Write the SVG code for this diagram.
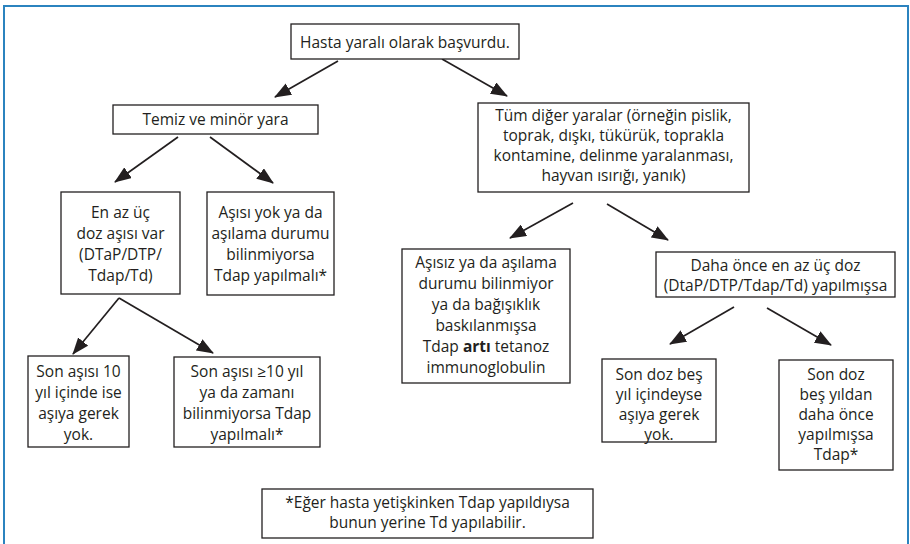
<svg xmlns="http://www.w3.org/2000/svg" width="910" height="544" viewBox="0 0 910 544">
<defs>
<marker id="ah" markerUnits="userSpaceOnUse" markerWidth="17" markerHeight="13" refX="16" refY="6.5" orient="auto">
<path d="M0,0 L17,6.5 L0,13 z" fill="#231f20"/>
</marker>
<style>
.box{fill:#fff;stroke:#231f20;stroke-width:1.3}
.t{font-family:"Open Sans","Noto Sans","Liberation Sans",sans-serif;font-size:15.5px;fill:#231f20;text-anchor:middle}
.c{stroke:#231f20;stroke-width:1.7;fill:none;marker-end:url(#ah)}
</style>
</defs>
<rect x="0" y="0" width="910" height="544" fill="#fff"/>
<rect x="4" y="6" width="904" height="560" fill="none" stroke="#2b83bf" stroke-width="2"/>
<g id="connectors">
<line class="c" x1="338" y1="61" x2="275" y2="97"/>
<line class="c" x1="442" y1="59" x2="507" y2="96"/>
<line class="c" x1="178" y1="137" x2="115" y2="182"/>
<line class="c" x1="210" y1="137" x2="273" y2="183"/>
<line class="c" x1="119" y1="298" x2="73" y2="354"/>
<line class="c" x1="119" y1="298" x2="213" y2="353"/>
<line class="c" x1="573" y1="203" x2="510" y2="238"/>
<line class="c" x1="607" y1="204" x2="668" y2="240"/>
<line class="c" x1="734" y1="307" x2="670" y2="344"/>
<line class="c" x1="767" y1="308" x2="831" y2="345"/>
</g>
<g id="hasta">
<rect class="box" x="291" y="24" width="228" height="35"/>
<text class="t" x="405" y="48">Hasta yaralı olarak başvurdu.</text>
</g>
<g id="temiz">
<rect class="box" x="113" y="105" width="205" height="29"/>
<text class="t" x="215.5" y="125">Temiz ve minör yara</text>
</g>
<g id="diger">
<rect class="box" x="478" y="103" width="271" height="89"/>
<text class="t" x="613.5" y="121">Tüm diğer yaralar (örneğin pislik,</text>
<text class="t" x="613.5" y="141">toprak, dışkı, tükürük, toprakla</text>
<text class="t" x="613.5" y="161">kontamine, delinme yaralanması,</text>
<text class="t" x="613.5" y="181">hayvan ısırığı, yanık)</text>
</g>
<g id="enaz">
<rect class="box" x="61" y="192" width="119" height="102"/>
<text class="t" x="120.5" y="218">En az üç</text>
<text class="t" x="120.5" y="239">doz aşısı var</text>
<text class="t" x="120.5" y="260">(DTaP/DTP/</text>
<text class="t" x="120.5" y="281">Tdap/Td)</text>
</g>
<g id="asisiyok">
<rect class="box" x="207" y="192" width="127" height="103"/>
<text class="t" x="270.5" y="218">Aşısı yok ya da</text>
<text class="t" x="270.5" y="239">aşılama durumu</text>
<text class="t" x="270.5" y="260">bilinmiyorsa</text>
<text class="t" x="270.5" y="281">Tdap yapılmalı*</text>
</g>
<g id="son10">
<rect class="box" x="28" y="356" width="101" height="91"/>
<text class="t" x="78.5" y="377">Son aşısı 10</text>
<text class="t" x="78.5" y="398">yıl içinde ise</text>
<text class="t" x="78.5" y="419">aşıya gerek</text>
<text class="t" x="78.5" y="440">yok.</text>
</g>
<g id="son10plus">
<rect class="box" x="174" y="357" width="146" height="90"/>
<text class="t" x="247" y="377">Son aşısı ≥10 yıl</text>
<text class="t" x="247" y="398">ya da zamanı</text>
<text class="t" x="247" y="419">bilinmiyorsa Tdap</text>
<text class="t" x="247" y="440">yapılmalı*</text>
</g>
<g id="asisiz">
<rect class="box" x="402" y="249" width="168" height="134"/>
<text class="t" x="486" y="268">Aşısız ya da aşılama</text>
<text class="t" x="486" y="289">durumu bilinmiyor</text>
<text class="t" x="486" y="310">ya da bağışıklık</text>
<text class="t" x="486" y="331">baskılanmışsa</text>
<text class="t" x="486" y="352">Tdap <tspan font-weight="bold">artı</tspan> tetanoz</text>
<text class="t" x="486" y="373">immunoglobulin</text>
</g>
<g id="dahaonce">
<rect class="box" x="656" y="252" width="239" height="45"/>
<text class="t" x="775.5" y="271">Daha önce en az üç doz</text>
<text class="t" x="775.5" y="291">(DtaP/DTP/Tdap/Td) yapılmışsa</text>
</g>
<g id="sondozbes">
<rect class="box" x="602" y="359" width="114" height="83"/>
<text class="t" x="659" y="380">Son doz beş</text>
<text class="t" x="659" y="400">yıl içindeyse</text>
<text class="t" x="659" y="420">aşıya gerek</text>
<text class="t" x="659" y="440">yok.</text>
</g>
<g id="sondozbesyildan">
<rect class="box" x="779" y="360" width="114" height="110"/>
<text class="t" x="836" y="380">Son doz</text>
<text class="t" x="836" y="400">beş yıldan</text>
<text class="t" x="836" y="420">daha önce</text>
<text class="t" x="836" y="440">yapılmışsa</text>
<text class="t" x="836" y="460">Tdap*</text>
</g>
<g id="dipnot">
<rect class="box" x="262" y="489" width="331" height="49"/>
<text class="t" x="427.5" y="508">*Eğer hasta yetişkinken Tdap yapıldıysa</text>
<text class="t" x="427.5" y="528">bunun yerine Td yapılabilir.</text>
</g>
</svg>
